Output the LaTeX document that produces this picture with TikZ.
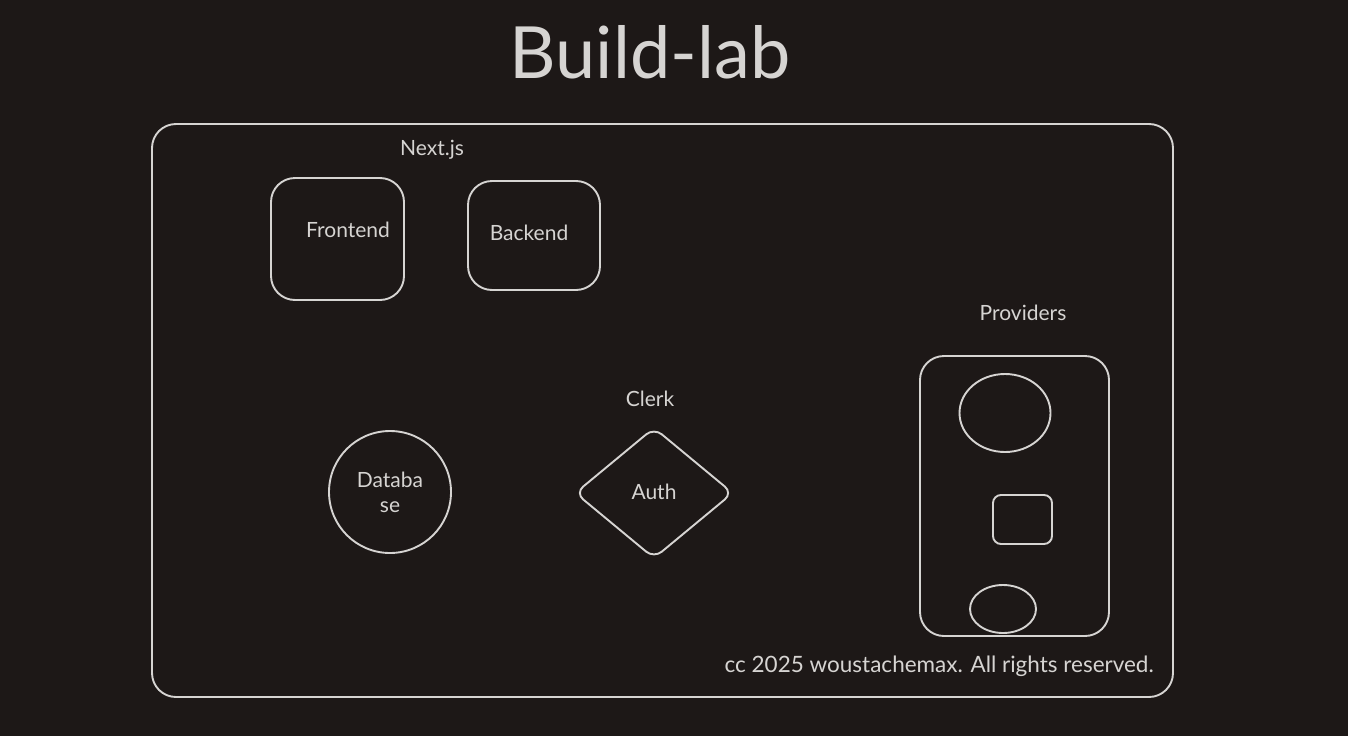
\documentclass[tikz,border=0pt]{standalone}
\usepackage{fontspec}
\setmainfont{Lato}
\usetikzlibrary{shapes.geometric}
\definecolor{bgc}{RGB}{29,24,23}
\definecolor{inkc}{RGB}{214,212,210}
\tikzset{
  ink/.style={draw=inkc, line width=1.9pt},
  boxr/.style={ink, rounded corners=24pt, inner sep=0pt},
  lbl/.style={text=inkc, font=\fontsize{21}{25}\selectfont, inner sep=0pt},
}
\begin{document}
\begin{tikzpicture}[x=1pt,y=-1pt]
\fill[bgc] (0,0) rectangle (1348,736);
\useasboundingbox (0,0) rectangle (1348,736);
% title
\node[text=inkc, font=\fontsize{72}{76}\selectfont, inner sep=0pt] (title) at (650,52) {Build-lab};
% outer frame
\node[boxr, minimum width=1021pt, minimum height=573pt] (frame) at (662.5,410.5) {};
% Next.js
\node[lbl] (nextjs) at (432,150) {Next.js};
\node[boxr, minimum width=133pt, minimum height=122pt] (fe) at (337.5,239) {};
\node[lbl] (felbl) at (348,230) {Frontend};
\node[boxr, minimum width=132pt, minimum height=109pt] (be) at (534,235.5) {};
\node[lbl] (belbl) at (529,233) {Backend};
% Providers
\node[lbl] (provlbl) at (1023,313) {Providers};
\node[boxr, minimum width=189pt, minimum height=280pt] (prov) at (1014.5,496) {};
\node[ink, ellipse, minimum width=91pt, minimum height=78pt, inner sep=0pt] (p1) at (1005,413) {};
\node[ink, rounded corners=8pt, minimum width=59pt, minimum height=49pt, inner sep=0pt] (p2) at (1022.5,519.5) {};
\node[ink, ellipse, minimum width=66pt, minimum height=48pt, inner sep=0pt] (p3) at (1003,609) {};
% Clerk
\node[lbl] (clerk) at (650,399) {Clerk};
\node[ink, diamond, rounded corners=10pt, minimum width=158pt, minimum height=131pt, inner sep=0pt] (auth) at (654,493) {};
\node[lbl] (authlbl) at (654,492) {Auth};
% Database
\node[ink, circle, minimum size=122pt, inner sep=0pt] (db) at (390,492) {};
\node[lbl, align=center, font=\fontsize{21}{25}\selectfont] (dblbl) at (390,492) {Databa\\se};
% footer
\node[lbl, anchor=east, font=\fontsize{22.5}{26}\selectfont] (footer) at (1154,666) {cc 2025 woustachemax. All rights reserved.};
\end{tikzpicture}
\end{document}
